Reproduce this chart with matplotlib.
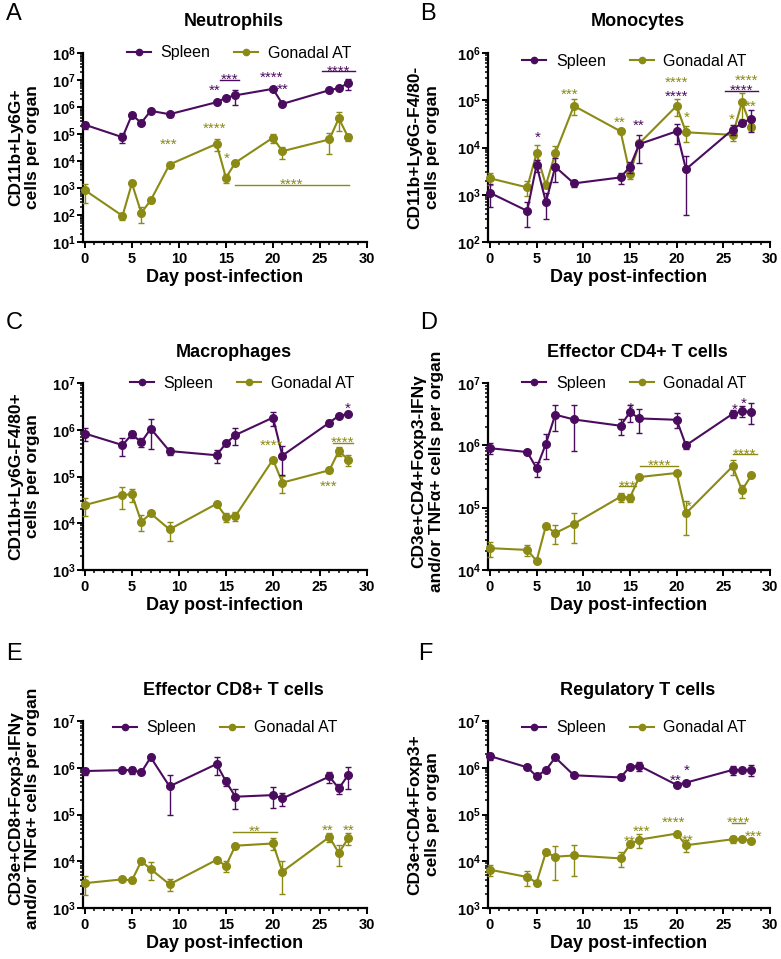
import numpy as np
import matplotlib
matplotlib.use("Agg")
import matplotlib.pyplot as plt
from matplotlib.lines import Line2D
from matplotlib.ticker import LogLocator, FuncFormatter, NullFormatter, MultipleLocator

plt.rcParams['font.family'] = ['Liberation Sans', 'DejaVu Sans']
plt.rcParams['mathtext.fontset'] = 'custom'
plt.rcParams['mathtext.rm'] = 'Liberation Sans:bold'
plt.rcParams['mathtext.bf'] = 'Liberation Sans:bold'
plt.rcParams['mathtext.it'] = 'Liberation Sans:italic:bold'

SPLEEN = '#4b0c5f'
GAT = '#8a8a14'
COLORS = {'spleen': SPLEEN, 'gat': GAT}

days = [0, 4, 5, 6, 7, 9, 14, 15, 16, 20, 21, 26, 27, 28]
groups = ['Spleen', 'Gonadal AT']

# Neutrophils (mean, SEM)
neut_spleen = [2.2e5, 7.6e4, 5.1e5, 2.6e5, 7.2e5, 5.4e5, 1.5e6, 2.2e6, 2.7e6, 4.7e6, 1.3e6, 4.2e6, 5.0e6, 7.7e6]
neut_spleen_sem = [7e4, 3e4, 8e4, 4e4, 8e4, 1e5, 2e5, 3e5, 1.5e6, 8e5, 1.5e5, 6e5, 8e5, 3.4e6]
neut_gat = [830, 93, 1480, 120, 350, 7400, 4.3e4, 2400, 8700, 7.3e4, 2.3e4, 6.3e4, 3.8e5, 7.6e4]
neut_gat_sem = [550, 30, 200, 70, 60, 900, 2e4, 900, 1200, 2.5e4, 1.1e4, 4.5e4, 2.5e5, 2e4]

# Monocytes
mono_spleen = [1100, 455, 4250, 700, 3900, 1740, 2330, 3900, 1.18e4, 2.2e4, 3470, 2.4e4, 3.3e4, 4.1e4]
mono_spleen_sem = [550, 250, 1200, 400, 2000, 300, 600, 1000, 7000, 1e4, 3100, 6000, 4000, 2e4]
mono_gat = [2230, 1430, 7500, 1600, 7500, 7.6e4, 2.2e4, 2750, 1.22e4, 7.6e4, 2.1e4, 1.85e4, 9e4, 2.7e4]
mono_gat_sem = [600, 500, 3800, 200, 3500, 2.8e4, 2500, 600, 1500, 3e4, 8000, 5000, 5e4, 4000]

# Macrophages
mac_spleen = [8.3e5, 4.7e5, 8e5, 5.4e5, 1.06e6, 3.5e5, 2.85e5, 5.1e5, 7.7e5, 1.82e6, 2.8e5, 1.42e6, 2e6, 2.15e6]
mac_spleen_sem = [2.5e5, 2e5, 1.2e5, 1.2e5, 6.8e5, 6e4, 9e4, 5e4, 3e5, 6e5, 1.7e5, 2e5, 1.5e5, 1.2e5]
mac_gat = [2.45e4, 4e4, 4.2e4, 1.07e4, 1.62e4, 7400, 2.6e4, 1.38e4, 1.42e4, 2.3e5, 7.4e4, 1.36e5, 3.5e5, 2.3e5]
mac_gat_sem = [1e4, 2e4, 1.3e4, 4000, 1500, 3200, 3000, 3000, 3000, 2e4, 3e4, 1.5e4, 8e4, 6e4]

# Effector CD4+ T cells
cd4_spleen = [9e5, 7.8e5, 4.3e5, 1.06e6, 3.1e6, 2.6e6, 2.06e6, 3.4e6, 2.7e6, 2.57e6, 1e6, 3.2e6, 3.5e6, 3.45e6]
cd4_spleen_sem = [1.8e5, 5e4, 1.2e5, 4.5e5, 1.4e6, 1.8e6, 6e5, 1e6, 1.1e6, 7e5, 1.2e5, 5e5, 7e5, 1.25e6]
cd4_gat = [2.24e4, 2.1e4, 1.4e4, 5.1e4, 3.9e4, 5.5e4, 1.5e5, 1.45e5, 3.1e5, 3.6e5, 8.1e4, 4.6e5, 1.9e5, 3.3e5]
cd4_gat_sem = [6000, 4000, 800, 3000, 1.3e4, 2.8e4, 2.5e4, 2e4, 1.5e4, 3e4, 4.5e4, 1.2e5, 4.5e4, 2e4]

# Effector CD8+ T cells
cd8_spleen = [8.5e5, 8.9e5, 8.9e5, 8e5, 1.67e6, 4e5, 1.2e6, 5.1e5, 2.4e5, 2.6e5, 2.2e5, 6.5e5, 3.6e5, 7e5]
cd8_spleen_sem = [1.5e5, 6e4, 1.7e5, 6e4, 1e5, 3e5, 5e5, 1e5, 1.1e5, 1.2e5, 7e4, 1.8e5, 8e4, 3.5e5]
cd8_gat = [3400, 4100, 3900, 1e4, 6800, 3200, 1.07e4, 8000, 2.15e4, 2.4e4, 6000, 3.3e4, 1.5e4, 3.1e4]
cd8_gat_sem = [1500, 400, 500, 800, 2800, 900, 800, 2000, 2000, 7000, 4000, 7000, 7000, 9000]

# Regulatory T cells
treg_spleen = [1.78e6, 1.02e6, 6.6e5, 8.9e5, 1.66e6, 6.9e5, 6.2e5, 1.05e6, 1.1e6, 4.3e5, 4.8e5, 9e5, 8.9e5, 9e5]
treg_spleen_sem = [3e5, 6e4, 4e4, 5e4, 1e5, 4e4, 5e4, 8e4, 2.5e5, 3e4, 3e4, 2e5, 8e4, 2.5e5]
treg_gat = [6600, 4600, 3500, 1.55e4, 1.25e4, 1.33e4, 1.15e4, 2.3e4, 2.9e4, 3.9e4, 2.2e4, 2.95e4, 2.95e4, 2.75e4]
treg_gat_sem = [1800, 1600, 200, 800, 8500, 8500, 4000, 1500, 1e4, 2000, 6500, 5000, 1500, 1500]

# significance marks: (label, day, value, group) and brackets (day0, day1, value, label, group)
stars_A = [("**", 13.8, 6.2e6, 'spleen'), ("****", 19.9, 1.9e7, 'spleen'), ("**", 21.05, 6.6e6, 'spleen'),
           ("***", 8.9, 6e4, 'gat'), ("****", 13.8, 2.5e5, 'gat'), ("*", 15.1, 1.8e4, 'gat')]
brackets_A = [(14.4, 16.4, 1.02e7, "***", 'spleen'), (25.2, 28.75, 2.1e7, "****", 'spleen'),
              (16.0, 28.05, 1290, "****", 'gat')]
stars_B = [("*", 5.1, 2.07e4, 'spleen'), ("***", 8.5, 1.66e5, 'gat'), ("**", 13.9, 4.2e4, 'gat'),
           ("**", 15.9, 3.7e4, 'spleen'), ("****", 20, 2.95e5, 'gat'), ("****", 20, 1.48e5, 'spleen'),
           ("*", 21.1, 5.4e4, 'gat'), ("*", 25.9, 4.9e4, 'gat'), ("****", 27.5, 3.3e5, 'gat'),
           ("**", 27.9, 9.3e4, 'gat')]
brackets_B = [(25.2, 28.75, 1.58e5, "****", 'spleen')]
stars_C = [("*", 28, 3.6e6, 'spleen'), ("****", 19.9, 5.75e5, 'gat'), ("***", 25.9, 7.8e4, 'gat')]
brackets_C = [(26.4, 28.5, 5.25e5, "****", 'gat')]
stars_D = [("*", 15.04, 4.7e6, 'spleen'), ("*", 26.2, 4.4e6, 'spleen'), ("*", 27.2, 5.5e6, 'spleen'),
           ("*", 21.3, 1.26e5, 'gat')]
brackets_D = [(13.8, 15.6, 2.2e5, "***", 'gat'), (16.1, 20.2, 4.7e5, "****", 'gat'),
              (26.0, 28.6, 7.2e5, "****", 'gat')]
stars_E = [("**", 25.8, 5.75e4, 'gat'), ("**", 28.0, 5.75e4, 'gat')]
brackets_E = [(15.8, 20.4, 4.2e4, "**", 'gat')]
stars_F = [("**", 19.95, 6.6e5, 'spleen'), ("*", 21.1, 1.1e6, 'spleen'), ("***", 16.2, 5.5e4, 'gat'),
           ("**", 15.0, 3.3e4, 'gat'), ("****", 19.7, 8.5e4, 'gat'), ("**", 21.2, 3.5e4, 'gat'),
           ("***", 28.2, 4.3e4, 'gat')]
brackets_F = [(25.9, 27.3, 6.6e4, "****", 'gat')]

panels = [
    dict(letter="A", title="Neutrophils", ylabel="CD11b+Ly6G+\ncells per organ", ylim=(1e1, 1e8),
         spleen=(neut_spleen, neut_spleen_sem), gat=(neut_gat, neut_gat_sem), stars=stars_A, brackets=brackets_A,
         rect=(83, 53, 284, 189), leg=(0.55, 1.0), labx=-0.15, laby=0.5),
    dict(letter="B", title="Monocytes", ylabel="CD11b+Ly6G-F4/80-\ncells per organ", ylim=(1e2, 1e6),
         spleen=(mono_spleen, mono_spleen_sem), gat=(mono_gat, mono_gat_sem), stars=stars_B, brackets=brackets_B,
         rect=(488, 53, 282, 189), leg=(0.52, 0.955), labx=-0.17, laby=0.5),
    dict(letter="C", title="Macrophages", ylabel="CD11b+Ly6G-F4/80+\ncells per organ", ylim=(1e3, 1e7),
         spleen=(mac_spleen, mac_spleen_sem), gat=(mac_gat, mac_gat_sem), stars=stars_C, brackets=brackets_C,
         rect=(83, 383, 284, 187), leg=(0.56, 1.0), labx=-0.15, laby=0.5),
    dict(letter="D", title="Effector CD4+ T cells", ylabel="CD3e+CD4+Foxp3-IFNγ\nand/or TNFα+ cells per organ",
         ylim=(1e4, 1e7), spleen=(cd4_spleen, cd4_spleen_sem), gat=(cd4_gat, cd4_gat_sem), stars=stars_D,
         brackets=brackets_D, rect=(488, 383, 282, 187), leg=(0.52, 1.0), labx=-0.156, laby=0.53),
    dict(letter="E", title="Effector CD8+ T cells", ylabel="CD3e+CD8+Foxp3-IFNγ\nand/or TNFα+ cells per organ",
         ylim=(1e3, 1e7), spleen=(cd8_spleen, cd8_spleen_sem), gat=(cd8_gat, cd8_gat_sem), stars=stars_E,
         brackets=brackets_E, rect=(83, 721, 284, 187), leg=(0.50, 0.963), labx=-0.15, laby=0.535),
    dict(letter="F", title="Regulatory T cells", ylabel="CD3e+CD4+Foxp3+\ncells per organ", ylim=(1e3, 1e7),
         spleen=(treg_spleen, treg_spleen_sem), gat=(treg_gat, treg_gat_sem), stars=stars_F, brackets=brackets_F,
         rect=(488, 721, 282, 187), leg=(0.52, 0.963), labx=-0.17, laby=0.5),
]
letter_pos = {"A": (6, 20), "B": (420, 20), "C": (6, 329), "D": (420, 329), "E": (6, 660), "F": (418, 660)}

W, H = 781, 959
fig = plt.figure(figsize=(W / 100, H / 100), dpi=100)


def log_label(v, pos):
    return r'$10^{%d}$' % int(round(np.log10(v)))


def add_stars(ax, items, dy=-6.5):
    for text, x, y, grp in items:
        ax.annotate(text, (x, y), xytext=(0, dy), textcoords='offset points', ha='center',
                    va='baseline', fontsize=11, color=COLORS[grp], zorder=6)


for p in panels:
    l, t, w, h = p["rect"]
    ax = fig.add_axes([l / W, 1 - (t + h) / H, w / W, h / H])
    ax.set_yscale('log')

    for key, z in (("gat", 3), ("spleen", 4)):
        vals, sem = p[key]
        ax.errorbar(days, vals, yerr=sem, color=COLORS[key], lw=1.5, marker='o', ms=5.5,
                    capsize=2.5, elinewidth=1.0, capthick=1.0, zorder=z, clip_on=False)

    add_stars(ax, p["stars"])
    for x0, x1, y, text, grp in p["brackets"]:
        ax.plot([x0, x1], [y, y], color=COLORS[grp], lw=1.0, zorder=5)
    add_stars(ax, [(b[3], (b[0] + b[1]) / 2, b[2], b[4]) for b in p["brackets"]], dy=-3)

    ax.set_xlim(-0.2, 30)
    ax.set_ylim(*p["ylim"])
    ax.set_xticks(range(0, 31, 5), labels=[str(v) for v in range(0, 31, 5)],
                  fontweight='bold', fontsize=10.5)
    ax.xaxis.set_minor_locator(MultipleLocator(1))
    ax.yaxis.set_major_locator(LogLocator(base=10, numticks=20))
    ax.yaxis.set_minor_locator(LogLocator(base=10, subs=np.arange(2, 10), numticks=100))
    ax.yaxis.set_major_formatter(FuncFormatter(log_label))
    ax.yaxis.set_minor_formatter(NullFormatter())
    ax.tick_params(axis='y', which='major', labelsize=10.5, pad=1)
    ax.tick_params(which='major', direction='out', length=4, width=1.4)
    ax.tick_params(which='minor', direction='out', length=2.5, width=1.1)
    for side in ('top', 'right'):
        ax.spines[side].set_visible(False)
    for side in ('left', 'bottom'):
        ax.spines[side].set_linewidth(1.6)

    ax.set_xlabel("Day post-infection", fontsize=13, fontweight='bold', labelpad=2)
    ax.set_ylabel(p["ylabel"], fontsize=12.5, fontweight='bold')
    ax.yaxis.set_label_coords(p["labx"], p["laby"])
    ax.text(0.53, 1.165, p["title"], transform=ax.transAxes, ha='center', va='center',
            fontsize=13, fontweight='bold')

    handles = [Line2D([], [], color=SPLEEN, lw=1.5, marker='o', ms=4.5),
               Line2D([], [], color=GAT, lw=1.5, marker='o', ms=4.5)]
    ax.legend(handles, groups, loc='center', bbox_to_anchor=p["leg"], ncol=2, frameon=False,
              fontsize=11.5, handlelength=1.5, handletextpad=0.6, columnspacing=1.5,
              borderaxespad=0, borderpad=0)

    lx, ly = letter_pos[p["letter"]]
    fig.text(lx / W, 1 - ly / H, p["letter"], fontsize=17, ha='left', va='baseline')

fig.savefig("out.png", dpi=100)
